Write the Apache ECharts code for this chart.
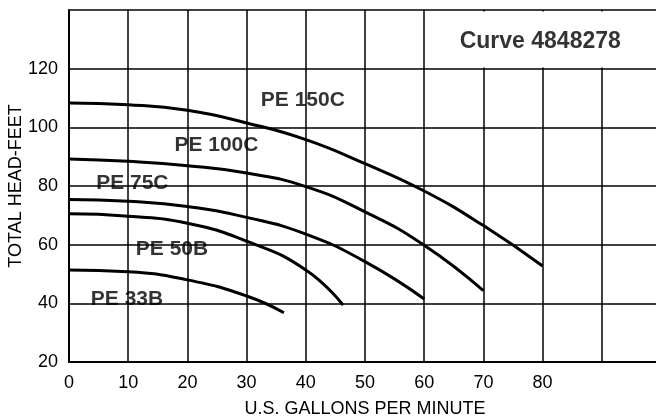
<!DOCTYPE html>
<html>
<head>
<meta charset="utf-8">
<script src="https://cdn.jsdelivr.net/npm/echarts@6/dist/echarts.min.js"></script>
<style>
html,body{margin:0;padding:0;background:#fff;}
#chart{width:656px;height:416px;}
</style>
</head>
<body>
<div id="chart"></div>
<script>
// ---- data ----
const xTicks = [0, 10, 20, 30, 40, 50, 60, 70, 80];
const yTicks = [20, 40, 60, 80, 100, 120];

const pe150C_x = [0, 10, 20, 30, 40, 50, 60, 70, 80];
const pe150C_y = [108.3, 107.7, 105.8, 101.5, 95.8, 87.6, 78.3, 66.5, 52.7];

const pe100C_x = [0, 10, 20, 30, 40, 50, 60, 70];
const pe100C_y = [89.2, 88.4, 86.9, 84.4, 79.8, 71.2, 59.8, 44.3];

const pe75C_x = [0, 10, 20, 30, 40, 50, 60];
const pe75C_y = [75.4, 74.8, 73.0, 69.3, 63.6, 54.2, 41.5];

const pe50B_x = [0, 10, 20, 30, 40, 46.3];
const pe50B_y = [70.5, 69.7, 67.3, 61.2, 51.4, 39.4];

const pe33B_x = [0, 10, 20, 30, 36.3];
const pe33B_y = [51.4, 50.8, 48.0, 42.5, 36.8];

const labelNames = ['PE 150C', 'PE 100C', 'PE 75C', 'PE 50B', 'PE 33B'];
const labelX = [39.5, 24.9, 10.7, 17.4, 9.8];
const labelY = [109.2, 93.9, 81.1, 58.4, 41.3];

const titleText = 'Curve 4848278';
const titleX = 79.6;
const titleY = 129.1;

// ---- chart ----
const font = 'Liberation Sans, Arial, Helvetica, sans-serif';
function pairs(xs, ys) { return xs.map((x, i) => [x, ys[i]]); }

const curves = [
  pairs(pe150C_x, pe150C_y),
  pairs(pe100C_x, pe100C_y),
  pairs(pe75C_x, pe75C_y),
  pairs(pe50B_x, pe50B_y),
  pairs(pe33B_x, pe33B_y)
];

const series = curves.map((d, i) => ({
  type: 'line',
  data: d,
  smooth: 0.5,
  symbol: 'none',
  lineStyle: { color: '#000', width: 3 },
  z: 3,
  silent: true
}));

// white box behind the curve title (grid lines interrupted there)
series.push({
  type: 'line',
  data: [],
  silent: true,
  markArea: {
    silent: true,
    itemStyle: { color: '#fff', borderWidth: 0 },
    data: [[{ coord: [60.25, 120.4] }, { coord: [100, 139.5] }]]
  },
  z: 2
});

series.push({
  type: 'scatter',
  symbolSize: 0,
  silent: true,
  z: 5,
  data: labelNames.map((n, i) => ({ value: [labelX[i], labelY[i]], name: n })),
  label: {
    show: true, position: 'inside',
    formatter: p => p.name,
    color: '#000', fontFamily: font, fontWeight: 'bold', fontSize: 21
  }
});

series.push({
  type: 'scatter',
  symbolSize: 0,
  silent: true,
  z: 5,
  data: [{ value: [titleX, titleY], name: titleText }],
  label: {
    show: true, position: 'inside',
    formatter: p => p.name,
    color: '#000', fontFamily: font, fontWeight: 'bold', fontSize: 23
  }
});

const chart = echarts.init(document.getElementById('chart'), null, { renderer: 'canvas' });
chart.setOption({
  backgroundColor: '#fff',
  animation: false,
  grid: { left: 69, right: -5, top: 10, bottom: 54, containLabel: false, outerBoundsMode: 'none' },
  xAxis: {
    type: 'value', min: 0, max: 100, interval: 10,
    name: 'U.S. GALLONS PER MINUTE',
    nameLocation: 'middle', nameGap: 38, nameMoveOverlap: false,
    nameTextStyle: { color: '#000', fontFamily: font, fontSize: 18 },
    axisLine: { show: true, lineStyle: { color: '#000', width: 2 } },
    axisTick: { show: false },
    axisLabel: {
      color: '#000', fontFamily: font, fontSize: 18, margin: 12,
      formatter: v => (xTicks.indexOf(v) >= 0 ? String(v) : '')
    },
    splitLine: { show: true, lineStyle: { color: '#000', width: 1.5 } }
  },
  yAxis: {
    type: 'value', min: 20, max: 140, interval: 20,
    name: 'TOTAL HEAD-FEET',
    nameLocation: 'middle', nameGap: 44, nameRotate: 90, nameMoveOverlap: false,
    nameTextStyle: { color: '#000', fontFamily: font, fontSize: 18 },
    axisLine: { show: true, lineStyle: { color: '#000', width: 2 } },
    axisTick: { show: false },
    axisLabel: {
      color: '#000', fontFamily: font, fontSize: 18, margin: 11,
      formatter: v => (yTicks.indexOf(v) >= 0 ? String(v) : '')
    },
    splitLine: { show: true, lineStyle: { color: '#000', width: 1.5 } }
  },
  series: series
});
</script>
</body>
</html>
